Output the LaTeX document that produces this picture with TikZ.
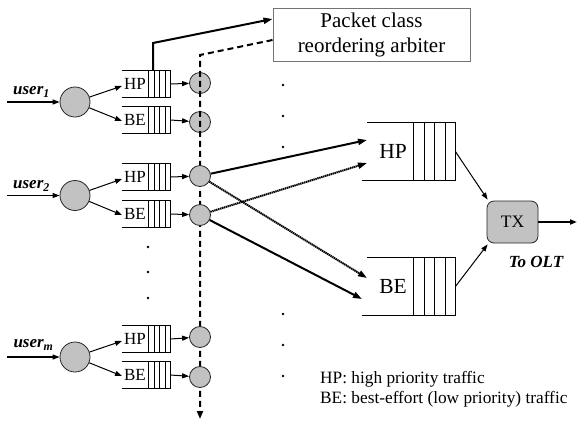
\documentclass[tikz,border=0pt]{standalone}
\usepackage{fontspec}
\setmainfont{Liberation Serif}
\usetikzlibrary{arrows.meta,calc}
\definecolor{cfill}{gray}{0.76}
\newcommand{\myqueue}[4]{% name, x-left, y-center, label
  \node[minimum width=48pt,minimum height=26pt,inner sep=0,anchor=west] (#1) at (#2,#3) {};
  \node[qtext] (#1l) at (#2+13,#3) {#4};
  \draw[qline] (#1.north west) -- (#1.north east) -- (#1.south east) -- (#1.south west);
  \foreach \k in {1,...,4} \draw[qline] ($(#1.north east)+(-\k*5.5,0)$) -- ($(#1.south east)+(-\k*5.5,0)$);
}
\newcommand{\mybigqueue}[4]{% name, x-left, y-center, label
  \node[minimum width=93pt,minimum height=57pt,inner sep=0,anchor=west] (#1) at (#2,#3) {};
  \node[bqtext] (#1l) at (#2+31,#3) {#4};
  \draw[qline] ($(#1.north west)+(5,0)$) -- (#1.north east) -- (#1.south east) -- (#1.south west);
  \foreach \k in {1,...,4} \draw[qline] ($(#1.north east)+(-\k*10.5,0)$) -- ($(#1.south east)+(-\k*10.5,0)$);
}
\begin{document}
\begin{tikzpicture}[x=1pt,y=-1pt,
  bigc/.style={circle,draw=black!85,fill=cfill,line width=0.8pt,minimum size=30pt,inner sep=0},
  smc/.style={circle,draw=black!85,fill=cfill,line width=0.8pt,minimum size=21pt,inner sep=0},
  qline/.style={line width=0.7pt},
  qtext/.style={inner sep=0,font=\fontsize{17}{19}\selectfont},
  bqtext/.style={inner sep=0,font=\fontsize{21.5}{24}\selectfont},
  ulabel/.style={inner sep=0,font=\fontsize{17}{19}\selectfont\bfseries\itshape},
  arr/.style={line width=1pt,-{Triangle[length=7pt,width=5pt]}},
  inarr/.style={line width=1.2pt,-{Triangle[length=7pt,width=5pt]}},
  thickarr/.style={line width=2pt,-{Triangle[length=9pt,width=6pt]}},
  dotarr/.style={line width=2pt,dash pattern=on 1.4pt off 0.6pt,-{Triangle[length=9pt,width=6pt]}},
  dashline/.style={line width=2pt,dash pattern=on 6pt off 4pt},
  dot/.style={circle,fill=black,inner sep=0,minimum size=2.8pt}
]
\useasboundingbox (0,0) rectangle (577,421);

% arbiter box
\node[draw=black!55,line width=1pt,minimum width=197pt,minimum height=53pt,align=center,
  font=\fontsize{21}{25}\selectfont] (arb) at (371.5,34.5) {Packet class\\reordering arbiter};

% users
\node[bigc] (u1) at (75,102) {};
\node[bigc] (u2) at (75,195.5) {};
\node[bigc] (um) at (75,357) {};
\coordinate (in1) at (7,102);
\coordinate (in2) at (7,195.5);
\coordinate (inm) at (7,357);
\draw[inarr] (in1) -- (u1);
\draw[inarr] (in2) -- (u2);
\draw[inarr] (inm) -- (um);
\node[ulabel] (l1) at (31.5,92) {user\textsubscript{1}};
\node[ulabel] (l2) at (31.5,186) {user\textsubscript{2}};
\node[ulabel] (lm) at (33.5,345) {user\textsubscript{m}};

% small queues
\myqueue{q1h}{122}{84}{HP}
\myqueue{q1b}{122}{120}{BE}
\myqueue{q2h}{122}{177}{HP}
\myqueue{q2b}{122}{214}{BE}
\myqueue{qmh}{122}{339}{HP}
\myqueue{qmb}{122}{375}{BE}

\foreach \u/\q in {u1/q1h,u2/q2h,um/qmh} \draw[arr] (\u) -- ([yshift=-2pt]\q.west);
\foreach \u/\q in {u1/q1b,u2/q2b,um/qmb} \draw[arr] (\u) -- ([yshift=-1pt]\q.west);

% row 1 small circles (under dashed line)
\node[smc] (s1h) at (200,83) {};
\node[smc] (s1b) at (200,122) {};

% solid arrow to arbiter
\coordinate (t1) at (153,43);
\draw[thickarr] ($(q1h.north west)+(31,0)$) -- (t1) -- ([yshift=15.5pt]arb.west);

% dashed line
\coordinate (t2) at (200,55);
\coordinate (dend) at (200,419);
\draw[dashline,-{Triangle[length=8pt,width=6pt]}] ([yshift=-5.5pt]arb.west) -- (t2) -- (dend);

% other small circles
\node[smc] (s2h) at (200,176) {};
\node[smc] (s2b) at (200,215) {};
\node[smc] (smh) at (200,337) {};
\node[smc] (smb) at (200,377) {};

\foreach \q/\s in {q1h/s1h,q1b/s1b,q2h/s2h,q2b/s2b,qmh/smh,qmb/smb} \draw[arr] (\q.east) -- (\s);

% big queues
\mybigqueue{bh}{362}{151.5}{HP}
\mybigqueue{bb}{362}{286.5}{BE}
\coordinate (hin1) at (367,140);
\coordinate (hin2) at (367,163);
\coordinate (bin1) at (367,278);
\coordinate (bin2) at (362,299);
\draw[thickarr] (s2h) -- (hin1);
\draw[dotarr] (s2b) -- (hin2);
\draw[dotarr] (s2h) -- (bin1);
\draw[thickarr] (s2b) -- (bin2);

% TX
\node[draw=black!85,fill=cfill,line width=0.8pt,rounded corners=7pt,minimum width=51pt,minimum height=42pt,
  inner sep=0,font=\fontsize{17.5}{20}\selectfont] (tx) at (512.5,222) {TX};
\draw[arr] (bh.east) -- ([xshift=1pt,yshift=1pt]tx.north west);
\draw[arr] (bb.east) -- ([xshift=1pt,yshift=-1pt]tx.south west);
\coordinate (out) at (577,222);
\draw[line width=2pt,-{Triangle[length=7pt,width=5pt]}] (tx.east) -- (out);
\node[ulabel] (olt) at (536,262) {To OLT};

% dots
\foreach \y [count=\i] in {85,116,147,314,345,376} \node[dot] (d\i) at (283,\y) {};
\foreach \y [count=\i] in {247,272,298} \node[dot] (e\i) at (148,\y) {};

% legend
\node[anchor=north west,align=left,inner sep=0,font=\fontsize{17.3}{20}\selectfont] (leg) at (320,371)
  {HP: high priority traffic\\BE: best-effort (low priority) traffic};
\end{tikzpicture}
\end{document}
